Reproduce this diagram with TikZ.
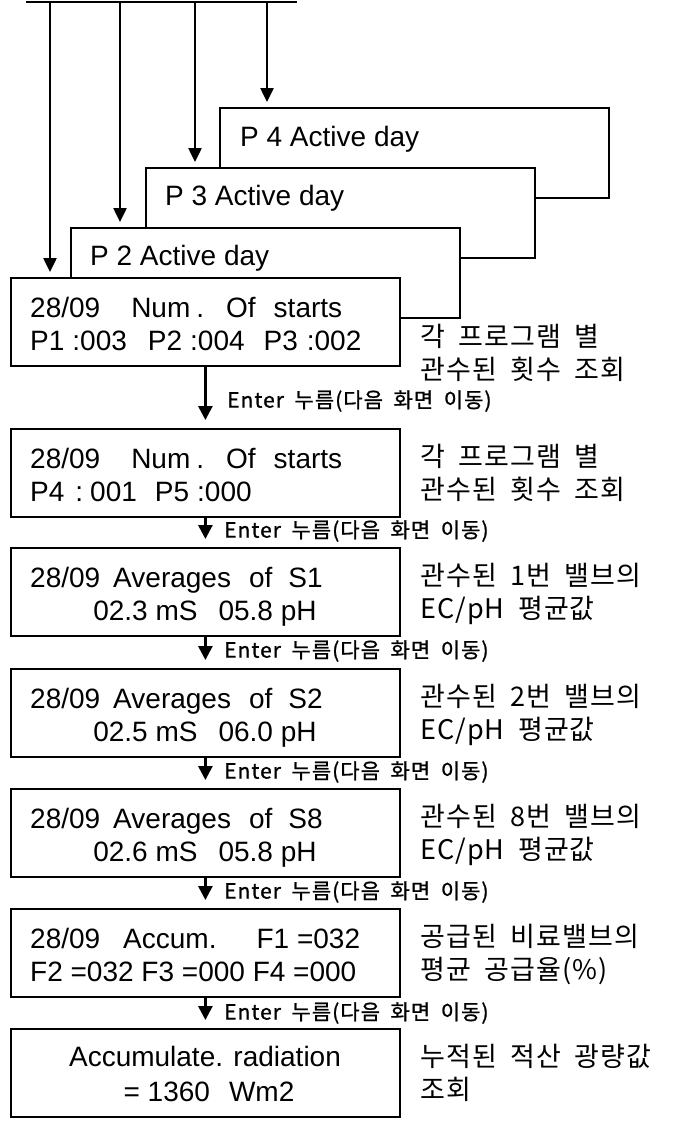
\documentclass[tikz,border=0pt]{standalone}
\usepackage{fontspec}
\setmainfont{Liberation Sans}
\newfontfamily\kfont[LetterSpace=4]{Noto Sans CJK KR}
\newfontfamily\kbfont[FakeBold=1,LetterSpace=5]{Noto Sans CJK KR}
\usetikzlibrary{arrows.meta}
\newcommand\ks{\hspace{0.5em}}
\begin{document}
\begin{tikzpicture}[x=1pt,y=-1pt,
  box/.style={draw, line width=1.8pt, fill=white, minimum width=389pt, minimum height=88pt, inner sep=0pt, anchor=north west},
  pbox/.style={box, minimum height=90pt},
  txt/.style={font=\fontsize{28}{30}\selectfont, inner sep=0pt, anchor=base west},
  ctxt/.style={font=\fontsize{28}{30}\selectfont, inner sep=0pt, anchor=base},
  desc/.style={font=\kfont\fontsize{27}{30}\selectfont, inner sep=0pt, anchor=base west},
  enter/.style={font=\kbfont\fontsize{21}{24}\selectfont, inner sep=0pt, anchor=west},
  arr/.style={line width=2.5pt, -{Triangle[length=14pt, width=13pt]}, shorten >=5pt},
  arrb/.style={line width=2.8pt, -{Triangle[length=14pt, width=14pt]}, shorten >=8pt},
]
\useasboundingbox (0,0) rectangle (677,1124);

% stacked program boxes
\node[pbox] (p4) at (219,107) {};
\node[txt] (p4t) at (240,146) {P 4 Active day};
\node[pbox] (p3) at (145,167) {};
\node[txt] (p3t) at (165,205) {P 3 Active day};
\node[pbox] (p2) at (70,227) {};
\node[txt] (p2t) at (90,265) {P 2 Active day};
\node[box] (b1) at (10,277) {};
\node[txt] (b1a) at (30,317) {28/09\hspace{31pt}Num\hspace{6pt}.\hspace{22pt}Of\hspace{18pt}starts};
\node[txt] (b1b) at (30,350) {P1\hspace{8pt}:003\hspace{21pt}P2\hspace{8pt}:004\hspace{19pt}P3\hspace{9pt}:002};

% top bus and arrows
\coordinate (tl) at (26,2);
\coordinate (tr) at (297,2);
\draw[line width=1.5pt] (tl) -- (tr);
\coordinate (t1) at (50,2);
\coordinate (t2) at (120,2);
\coordinate (t3) at (195,2);
\coordinate (t4) at (267,2);
\draw[arr] (t1) -- (t1 |- b1.north);
\draw[arr] (t2) -- (t2 |- p2.north);
\draw[arr] (t3) -- (t3 |- p3.north);
\draw[arr] (t4) -- (t4 |- p4.north);

% main column
\node[box] (b2) at (10,428) {};
\node[txt] (b2a) at (30,468) {28/09\hspace{31pt}Num\hspace{6pt}.\hspace{22pt}Of\hspace{18pt}starts};
\node[txt] (b2b) at (30,501) {P4\hspace{11pt}:\hspace{7pt}001\hspace{18pt}P5\hspace{8pt}:000};

\node[box] (b3) at (10,547) {};
\node[txt] (b3a) at (30,587) {28/09\hspace{13pt}Averages\hspace{18pt}of\hspace{16pt}S1};
\node[ctxt] (b3b) at (205,620) {02.3 mS\hspace{21pt}05.8 pH};

\node[box] (b4) at (10,668) {};
\node[txt] (b4a) at (30,708) {28/09\hspace{13pt}Averages\hspace{18pt}of\hspace{16pt}S2};
\node[ctxt] (b4b) at (205,741) {02.5 mS\hspace{21pt}06.0 pH};

\node[box] (b5) at (10,788) {};
\node[txt] (b5a) at (30,828) {28/09\hspace{13pt}Averages\hspace{18pt}of\hspace{16pt}S8};
\node[ctxt] (b5b) at (205,861) {02.6 mS\hspace{21pt}05.8 pH};

\node[box] (b6) at (10,908) {};
\node[txt] (b6a) at (30,948) {28/09\hspace{23pt}Accum.\hspace{40pt}F1 =032};
\node[txt] (b6b) at (30,981) {F2 =032 F3 =000 F4 =000};

\node[box] (b7) at (10,1028) {};
\node[ctxt] (b7a) at (205,1066) {Accumulate. radiation};
\node[ctxt] (b7b) at (209,1101) {= 1360\hspace{19pt}Wm2};

% arrows between screens
\draw[arrb] (b1.south) -- (b2.north);
\draw[arrb] (b2.south) -- (b3.north);
\draw[arrb] (b3.south) -- (b4.north);
\draw[arrb] (b4.south) -- (b5.north);
\draw[arrb] (b5.south) -- (b6.north);
\draw[arrb] (b6.south) -- (b7.north);

\node[enter] (e1) at (227,401) {Enter\ks 누름(다음\ks 화면\ks 이동)};
\node[enter] (e2) at (224,531) {Enter\ks 누름(다음\ks 화면\ks 이동)};
\node[enter] (e3) at (224,651) {Enter\ks 누름(다음\ks 화면\ks 이동)};
\node[enter] (e4) at (224,772) {Enter\ks 누름(다음\ks 화면\ks 이동)};
\node[enter] (e5) at (224,892) {Enter\ks 누름(다음\ks 화면\ks 이동)};
\node[enter] (e6) at (224,1013) {Enter\ks 누름(다음\ks 화면\ks 이동)};

% descriptions
\node[desc] (d1a) at (420,346) {각\ks 프로그램\ks 별};
\node[desc] (d1b) at (420,379) {관수된\ks 횟수\ks 조회};
\node[desc] (d2a) at (420,466) {각\ks 프로그램\ks 별};
\node[desc] (d2b) at (420,499) {관수된\ks 횟수\ks 조회};
\node[desc] (d3a) at (420,585) {관수된\ks 1번\ks 밸브의};
\node[desc] (d3b) at (420,618) {EC/pH\ks 평균값};
\node[desc] (d4a) at (420,706) {관수된\ks 2번\ks 밸브의};
\node[desc] (d4b) at (420,739) {EC/pH\ks 평균값};
\node[desc] (d5a) at (420,826) {관수된\ks 8번\ks 밸브의};
\node[desc] (d5b) at (420,859) {EC/pH\ks 평균값};
\node[desc] (d6a) at (420,946) {공급된\ks 비료밸브의};
\node[desc] (d6b) at (420,979) {평균\ks 공급율(\%)};
\node[desc] (d7a) at (420,1066) {누적된\ks 적산\ks 광량값};
\node[desc] (d7b) at (420,1099) {조회};
\end{tikzpicture}
\end{document}
